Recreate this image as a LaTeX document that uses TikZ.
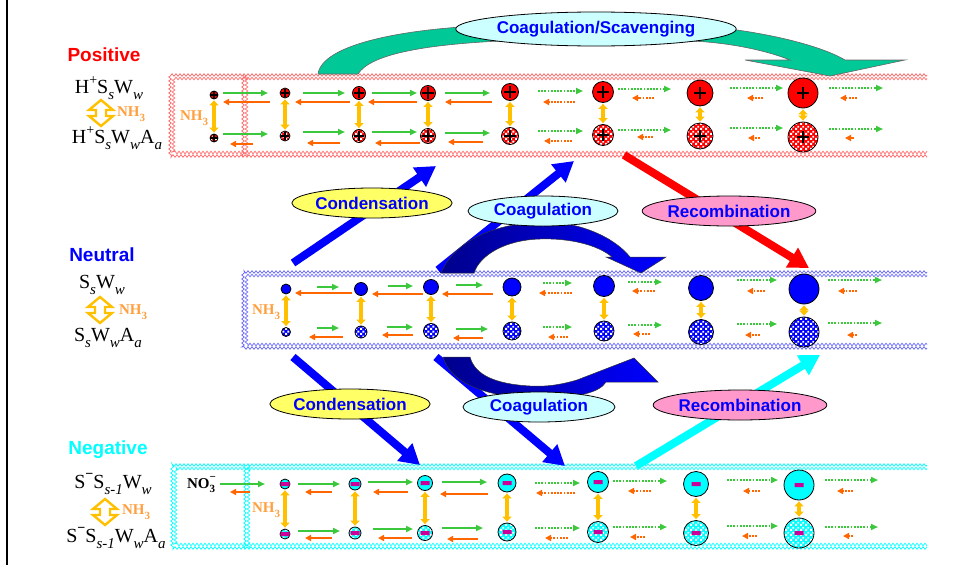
\documentclass[tikz,border=0pt]{standalone}
\usepackage{fontspec}
\setmainfont{Liberation Serif}
\setsansfont{Liberation Sans}
\usetikzlibrary{arrows.meta,decorations.pathmorphing,patterns.meta,shapes.geometric}

\definecolor{nhorange}{RGB}{255,160,64}
\definecolor{amber}{RGB}{255,192,0}
\definecolor{fwdgreen}{RGB}{60,200,60}
\definecolor{backorange}{RGB}{255,102,0}
\definecolor{scavgreen}{RGB}{0,200,150}
\definecolor{barmagenta}{RGB}{204,0,153}
\definecolor{condyellow}{RGB}{255,255,102}
\definecolor{coagcyan}{RGB}{204,255,255}
\definecolor{recpink}{RGB}{255,153,204}
\definecolor{navyband}{RGB}{0,0,140}
\definecolor{ionred}{RGB}{255,0,0}
\definecolor{ionblue}{RGB}{0,0,255}
\definecolor{ionaqua}{RGB}{0,255,255}

\newcommand{\chsub}[1]{\raisebox{-0.28em}{\fontsize{15}{15}\selectfont\itshape #1}}
\newcommand{\chplus}{\raisebox{0.45em}{\fontsize{14}{14}\selectfont +}}
\newcommand{\chminus}{\raisebox{0.5em}{\fontsize{14}{14}\selectfont\bfseries −}}
\newcommand{\nhthree}{\textbf{NH\raisebox{-0.3em}{\fontsize{11}{11}\selectfont 3}}}

\tikzdeclarepattern{
  name=cells,
  type=uncolored,
  bounding box={(0pt,0pt) and (5pt,5pt)},
  tile size={(5pt,5pt)},
  code={
    \fill (0.2pt,0.2pt) rectangle (2.4pt,2.4pt);
    \fill (2.7pt,2.7pt) rectangle (4.9pt,4.9pt);
  }
}

\tikzset{
  typelabel/.style={font=\sffamily\bfseries\fontsize{19}{19}\selectfont},
  chem/.style={font=\fontsize{20}{21}\selectfont},
  nhlabel/.style={font=\fontsize{15}{15}\selectfont, text=nhorange},
  process/.style={ellipse, draw=black, line width=0.8pt, inner sep=0pt, text=ionblue,
    font=\sffamily\bfseries\fontsize{17}{17}\selectfont},
  ion/.style={circle, draw=black, line width=0.8pt, inner sep=0pt},
  wet/.style={ion, preaction={fill=#1}, pattern=cells, pattern color=white},
  fwd/.style={fwdgreen, line width=1.8pt, -{Triangle[length=7pt,width=6pt]}},
  bwd/.style={backorange, line width=1.8pt, -{Triangle[length=6pt,width=6pt]}},
  dots/.style={dash pattern=on 1.8pt off 1.4pt},
  updown/.style={amber, line width=3.5pt, {Triangle[length=5pt,width=9pt]}-{Triangle[length=5pt,width=9pt]},
    shorten <=1pt, shorten >=1pt},
  bigarrow/.style={line width=8pt, -{Triangle[length=20pt,width=22pt]}},
  blueband/.style={left color=navyband, right color=ionblue, draw=black!80, line width=0.5pt},
  wavy/.style={decorate, decoration={zigzag, segment length=4pt, amplitude=1.3pt}, line width=0.7pt},
  ammoniaswap/.pic={
    \draw[amber, line width=2.4pt, fill=white, line join=miter]
      (0,-13) -- (12,-3) -- (5,-3) -- (5,3) -- (12,3) -- (0,13) -- (-12,3) -- (-5,3) -- (-5,-3) -- (-12,-3) -- cycle;
  }
}

\begin{document}
\begin{tikzpicture}[x=1pt,y=-1pt]
\useasboundingbox (0,0) rectangle (953,565);
\fill[white] (0,0) rectangle (953,565);
\draw[line width=2.5pt] (7,0) -- (7,565);

\draw[wavy, ionred!60] (927,75) -- (170,75) -- (170,156) -- (927,156) (243,75) -- (243,156);
\draw[wavy, ionred!60] (927,78.5) -- (173.5,78.5) -- (173.5,152.5) -- (927,152.5) (246.5,75) -- (246.5,156);
\draw[wavy, ionblue!60] (927,272) -- (243,272) -- (243,348) -- (927,348);
\draw[wavy, ionblue!60] (927,275.5) -- (246.5,275.5) -- (246.5,344.5) -- (927,344.5);
\draw[wavy, ionaqua] (927,465) -- (172,465) -- (172,548) -- (927,548) (245,465) -- (245,548);
\draw[wavy, ionaqua] (927,468.5) -- (175.5,468.5) -- (175.5,544.5) -- (927,544.5) (248.5,465) -- (248.5,548);

\node[typelabel, text=ionred] (poslbl) at (104,55) {Positive};
\node[typelabel, text=ionblue] (neulbl) at (102,255) {Neutral};
\node[typelabel, text=ionaqua] (neglbl) at (108,450) {Negative};

\node[chem] (posdry) at (109,88) {H\chplus S\chsub{s}W\chsub{w}};
\pic at (101,113) {ammoniaswap};
\node[nhlabel] (posnh) at (131,114) {\nhthree};
\node[chem] (poswet) at (117,138) {H\chplus S\chsub{s}W\chsub{w}A\chsub{a}};

\node[chem] (neudry) at (102,285) {S\chsub{s}W\chsub{w}};
\pic at (100,310) {ammoniaswap};
\node[nhlabel] (neunh) at (133,312) {\nhthree};
\node[chem] (neuwet) at (108,338) {S\chsub{s}W\chsub{w}A\chsub{a}};

\node[chem] (negdry) at (113,484) {S\chminus S\chsub{s-1}W\chsub{w}};
\pic at (105,512) {ammoniaswap};
\node[nhlabel] (negnh) at (136,512) {\nhthree};
\node[chem] (negwet) at (116,538) {S\chminus S\chsub{s-1}W\chsub{w}A\chsub{a}};

\node[nhlabel] (posboxnh) at (194,118) {\nhthree};
\node[nhlabel] (neuboxnh) at (266,312) {\nhthree};
\node[nhlabel] (negboxnh) at (266,510) {\nhthree};
\node[font=\bfseries\fontsize{15}{15}\selectfont] (nitrate) at (201,485)
  {NO\rlap{\raisebox{0.5em}{\fontsize{11}{11}\selectfont −}}\raisebox{-0.3em}{\fontsize{11}{11}\selectfont 3}};

\foreach \a/\b/\y in {223/268/93, 303/345/93, 372/417/93, 445/490/93, 223/268/134, 303/345/132, 372/417/132, 445/490/133,
  317/339/287, 388/413/286, 456/483/285, 317/339/328, 387/413/327, 456/488/329,
  220/265/484, 298/340/484, 368/413/482, 442/487/482, 298/340/531, 373/413/529, 442/483/528}
  \draw[fwd] (\a,\y) -- (\b,\y);
\foreach \a/\b/\y in {270/223/102, 350/295/102, 417/368/102, 492/445/102, 253/230/144, 340/307/143, 420/375/143, 483/448/142,
  352/295/293, 423/372/294, 493/442/294, 343/309/337, 413/382/335, 483/453/338,
  250/230/492, 332/305/492, 408/373/492, 488/440/494, 332/305/538, 412/378/538, 478/447/539}
  \draw[bwd] (\a,\y) -- (\b,\y);
\foreach \a/\b/\y in {538/583/91, 618/671/89, 730/783/88, 829/883/88, 538/583/131, 618/671/130, 730/783/128, 829/883/129,
  543/572/283, 628/662/282, 737/777/280, 828/882/280, 543/572/327, 628/662/325, 737/777/324, 828/882/323,
  535/580/483, 613/667/481, 727/778/480, 825/878/480, 535/580/528, 613/667/527, 727/778/526, 825/878/527}
  \draw[fwd, dots] (\a,\y) -- (\b,\y);
\foreach \a/\b/\y in {575/543/102, 654/632/98, 763/747/98, 857/840/98, 572/544/141, 653/637/137, 760/748/138, 854/845/138,
  572/539/293, 655/632/291, 765/747/291, 857/838/291, 568/548/337, 650/633/334, 760/745/335, 857/847/335,
  575/536/493, 651/628/491, 760/743/491, 853/837/491, 568/545/538, 645/630/537, 757/742/536, 853/843/536}
  \draw[bwd, dots] (\a,\y) -- (\b,\y);

\foreach \n/\x/\yt/\yb/\r in {1/214/95/138/4, 2/285/93/136/5, 3/359/93/136/6.5, 4/428/93/136/7.5,
  5/510/92/136/8.5, 6/603/92/135/10.5, 7/700/93/136/13, 8/803/93/137/15}{
  \node[ion, fill=ionred, minimum size=2*\r] (pt\n) at (\x,\yt) {};
  \node[wet=ionred, minimum size=2*\r] (pb\n) at (\x,\yb) {};
  \pgfmathsetmacro\arm{min(0.55*\r+1.5,6)}
  \draw[line width=1.7pt] (pt\n.center) ++(-\arm,0) -- ++(2*\arm,0) (pt\n.center) ++(0,-\arm) -- ++(0,2*\arm)
    (pb\n.center) ++(-\arm,0) -- ++(2*\arm,0) (pb\n.center) ++(0,-\arm) -- ++(0,2*\arm);
  \draw[updown] (pt\n.south) -- (pb\n.north);
}
\foreach \n/\x/\yt/\rt/\yb/\rb in {1/286/289/5/332/4.5, 2/361/289/6.5/332/6, 3/431/287/7.5/331/7.5, 4/512/287/9/331/9,
  5/604/286/10.5/331/10, 6/701/288/12.5/332/12.5, 7/804/289/15/332/15}{
  \node[ion, fill=ionblue, minimum size=2*\rt] (ut\n) at (\x,\yt) {};
  \node[wet=ionblue, minimum size=2*\rb] (ub\n) at (\x,\yb) {};
  \draw[updown] (ut\n.south) -- (ub\n.north);
}
\foreach \n/\x/\yt/\yb/\r in {1/285/484/534/5, 2/355/484/533/6, 3/425/483/533/7.5, 4/507/483/532/9,
  5/598/482/532/10.5, 6/696/484/533/12.5, 7/799/485/533/15}{
  \node[ion, fill=ionaqua, minimum size=2*\r] (nt\n) at (\x,\yt) {};
  \node[wet=ionaqua, minimum size=2*\r] (nb\n) at (\x,\yb) {};
  \fill[barmagenta] (nt\n.center) ++(-4.5,-2) rectangle ++(9,4) (nb\n.center) ++(-4.5,-2) rectangle ++(9,4);
  \draw[updown] (nt\n.south) -- (nb\n.north);
}

\draw[bigarrow, ionblue] (293,263) -- (436,166);
\draw[bigarrow, ionblue] (438,270) -- (574,161);
\draw[bigarrow, ionred] (624,155) -- (809,268);
\draw[bigarrow, ionblue] (293,357) -- (420,465);
\draw[bigarrow, ionblue] (436,357) -- (565,466);
\draw[bigarrow, ionaqua] (636,466) -- (820,355);

\path[blueband] (441,273) .. controls (455,240) and (495,224) .. (540,222) .. controls (580,221) and (615,238) .. (630,257)
  -- (666,257) -- (641,273) -- (606,257) -- (612,257) .. controls (598,245) and (570,238) .. (540,239)
  .. controls (505,240) and (480,255) .. (474,273) -- cycle;
\path[blueband] (443,357) .. controls (452,388) and (500,400) .. (550,398) .. controls (580,397) and (600,392) .. (606,382)
  -- (658,382) -- (634,358) -- (577,380) .. controls (560,385) and (545,387) .. (530,386)
  .. controls (495,384) and (475,375) .. (470,357) -- cycle;

\filldraw[fill=scavgreen, draw=black!60, line width=0.6pt]
  (318,74) .. controls (322,45) and (400,28) .. (500,25) -- (690,25) .. controls (760,30) and (820,45) .. (845,60)
  -- (905,60) -- (830,76) -- (745,60) -- (790,60) .. controls (760,48) and (720,42) .. (690,41)
  -- (500,41) .. controls (420,45) and (370,55) .. (358,74) -- cycle;

\node[process, fill=coagcyan, minimum width=220, minimum height=34] (scav) at (596,29) {Coagulation/Scavenging};
\node[process, fill=condyellow, minimum width=145, minimum height=30] (condup) at (372,203) {Condensation};
\node[process, fill=coagcyan, minimum width=150, minimum height=30] (coagup) at (543,211) {Coagulation};
\node[process, fill=recpink, minimum width=154, minimum height=30] (recup) at (729,211) {Recombination};
\node[process, fill=condyellow, minimum width=145, minimum height=30] (conddown) at (350,404) {Condensation};
\node[process, fill=coagcyan, minimum width=152, minimum height=30] (coagdown) at (539,407) {Coagulation};
\node[process, fill=recpink, minimum width=152, minimum height=30] (recdown) at (740,405) {Recombination};
\end{tikzpicture}
\end{document}
